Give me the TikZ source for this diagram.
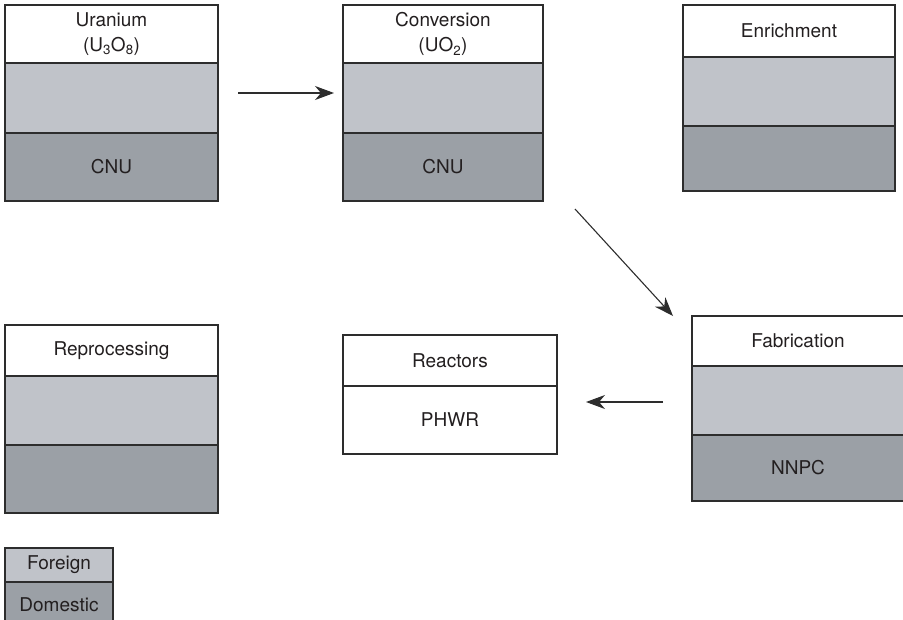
\documentclass[tikz,border=0pt]{standalone}
\usepackage{fontspec}
\setmainfont{TeX Gyre Heros}
\usetikzlibrary{arrows.meta}
\definecolor{foreign}{RGB}{192,195,201}
\definecolor{domestic}{RGB}{155,160,166}
\definecolor{edge}{RGB}{45,45,45}
\definecolor{ink}{RGB}{35,31,32}
\begin{document}
\begin{tikzpicture}[x=1pt,y=-1pt,
  row/.style={draw=edge,line width=1.3pt,anchor=north west,inner sep=0pt,outer sep=0pt,
    text=ink,align=center,font=\fontsize{19}{25}\selectfont},
  hdr/.style={row,fill=white},
  frn/.style={row,fill=foreign},
  dom/.style={row,fill=domestic},
  flow/.style={draw=edge,line width=1.1pt,-{Stealth[length=19pt,width=14pt,inset=6pt]}}]
\useasboundingbox (0,0) rectangle (903,619);
\clip (0,0) rectangle (903,619);
% uranium
\node[hdr,minimum width=213pt,minimum height=58pt] (uran-h) at (5,5) {Uranium\\(U\textsubscript{3}O\textsubscript{8})};
\node[frn,minimum width=213pt,minimum height=70pt] (uran-f) at (uran-h.south west) {};
\node[dom,minimum width=213pt,minimum height=68pt] (uran-d) at (uran-f.south west) {CNU};
% conversion
\node[hdr,minimum width=200pt,minimum height=58pt] (conv-h) at (343,5) {Conversion\\(UO\textsubscript{2})};
\node[frn,minimum width=200pt,minimum height=70pt] (conv-f) at (conv-h.south west) {};
\node[dom,minimum width=200pt,minimum height=68pt] (conv-d) at (conv-f.south west) {CNU};
% enrichment
\node[hdr,minimum width=212pt,minimum height=52pt] (enr-h) at (683,5) {Enrichment};
\node[frn,minimum width=212pt,minimum height=69pt] (enr-f) at (enr-h.south west) {};
\node[dom,minimum width=212pt,minimum height=65pt] (enr-d) at (enr-f.south west) {};
% reprocessing
\node[hdr,minimum width=213pt,minimum height=51pt] (rep-h) at (5,325) {Reprocessing};
\node[frn,minimum width=213pt,minimum height=69pt] (rep-f) at (rep-h.south west) {};
\node[dom,minimum width=213pt,minimum height=68pt] (rep-d) at (rep-f.south west) {};
% reactors
\node[hdr,minimum width=214pt,minimum height=51pt] (reac-h) at (343,335) {Reactors};
\node[hdr,minimum width=214pt,minimum height=68pt] (reac-d) at (reac-h.south west) {PHWR};
% fabrication
\node[hdr,minimum width=212pt,minimum height=50pt] (fab-h) at (692,316) {Fabrication};
\node[frn,minimum width=212pt,minimum height=69pt] (fab-f) at (fab-h.south west) {};
\node[dom,minimum width=212pt,minimum height=66pt] (fab-d) at (fab-f.south west) {NNPC};
% legend
\node[frn,minimum width=108pt,minimum height=34pt] (key-f) at (5,548) {Foreign};
\node[dom,minimum width=108pt,minimum height=45pt] (key-d) at (key-f.south west) {Domestic};
% arrows
\coordinate (a1s) at (238,93);
\coordinate (a1e) at (334,93);
\coordinate (a2s) at (575,209);
\coordinate (a2e) at (673,316);
\coordinate (a3s) at (663,402);
\coordinate (a3e) at (586,402);
\draw[flow] (a1s) -- (a1e);
\draw[flow] (a2s) -- (a2e);
\draw[flow] (a3s) -- (a3e);
\end{tikzpicture}
\end{document}
